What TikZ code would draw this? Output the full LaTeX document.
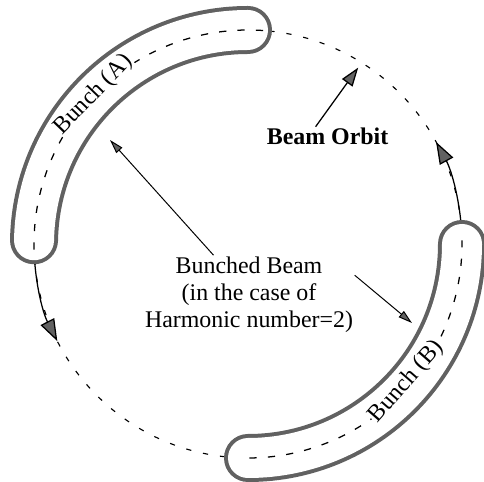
\documentclass[tikz,border=0pt]{standalone}
\usepackage{fontspec}
\setmainfont{Liberation Serif}
\usetikzlibrary{arrows.meta,positioning,calc}
\definecolor{tube}{gray}{0.38}

\begin{document}
\begin{tikzpicture}[
  every node/.style={font=\fontsize{17}{19.2}\selectfont, inner sep=1pt},
  orbit/.style={line width=0.8pt, dash pattern=on 0.13cm off 0.3cm},
  tubeout/.style={line width=1.2cm, draw=tube, line cap=round},
  tubein/.style={line width=1.0cm, draw=white, line cap=round},
  core/.style={line width=0.9pt, dash pattern=on 0.18cm off 0.28cm},
  flow/.style={line width=0.9pt, -{Triangle[length=0.55cm, width=0.38cm, fill=tube]}},
  ptr/.style={line width=0.7pt, -{Triangle[length=0.35cm, width=0.2cm, fill=tube]}},
  bigptr/.style={line width=0.9pt, -{Triangle[length=0.47cm, width=0.32cm, fill=tube]}},
  tag/.style={fill=white, inner sep=0.5pt},
]
\useasboundingbox (-6.2,-5.95) rectangle (5.9,6.1);
\coordinate (O) at (0,0);

% the orbit
\draw[orbit] (O) circle (5.35);

% direction of motion
\draw[flow] (180:5.35) arc (180:207:5.35);
\draw[flow] (2:5.35) arc (2:28.5:5.35);

% bunch A
\draw[tubeout] (179:5.35) arc (179:90:5.35);
\draw[tubein] (179:5.35) arc (179:90:5.35);
\draw[core] (181.5:5.35) arc (181.5:85.5:5.35);
\node[tag, rotate=46] (bunchA) at (136:5.37) {Bunch (A)};

% bunch B
\draw[tubeout] (0:5.35) arc (0:-90:5.35);
\draw[tubein] (0:5.35) arc (0:-90:5.35);
\draw[core] (1:5.35) arc (1:-91.5:5.35);
\node[tag, rotate=49] (bunchB) at (-41:5.25) {Bunch (B)};

% labels
\node[font=\fontsize{17}{19.2}\selectfont\bfseries, anchor=base] (orbitlbl) at (1.99,2.475) {Beam Orbit};
\coordinate (orbitpt) at (58:5.2);
\draw[bigptr] ([xshift=-0.3cm]orbitlbl.north) -- (orbitpt);

\node[align=center, anchor=north] (bb) at (0.025,-0.28)
  {Bunched Beam\\(in the case of\\Harmonic number=2)};
\coordinate (tipA) at (-3.45,2.6);
\coordinate (tipB) at (4.1,-1.975);
\draw[ptr] (bb) -- (tipA);
\draw[ptr] ([yshift=-0.5cm]bb.north east) -- (tipB);
\end{tikzpicture}
\end{document}
